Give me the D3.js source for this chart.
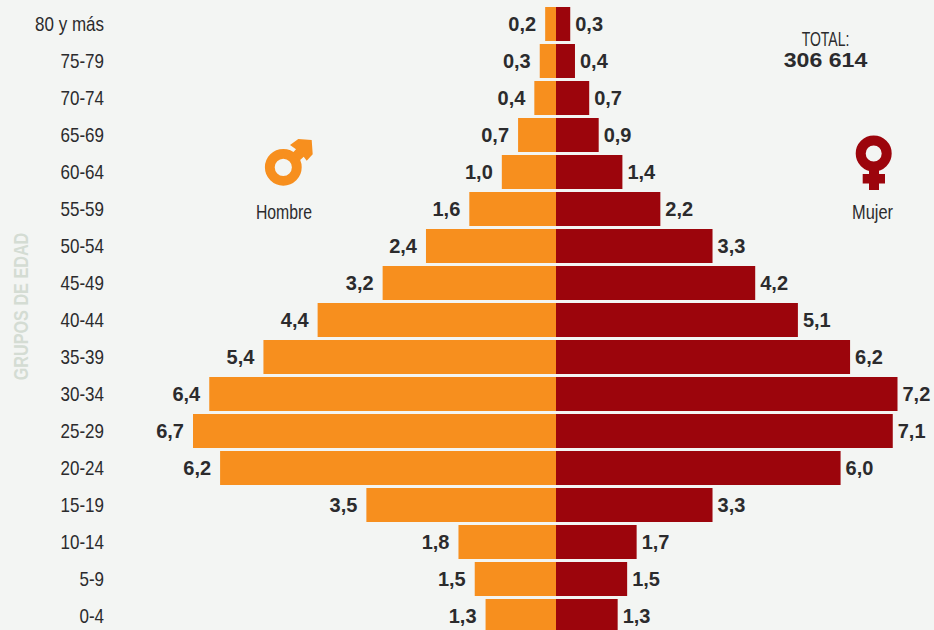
<!DOCTYPE html>
<html><head><meta charset="utf-8">
<script src="https://cdn.jsdelivr.net/npm/d3@7"></script>
<style>
html,body{margin:0;padding:0;background:#f3f5f3;overflow:hidden}
svg{display:block}
text{font-family:"Liberation Sans",sans-serif}
.val{font-weight:700;font-size:20px;fill:#2b2b2d}
</style></head><body>
<svg id="c" width="934" height="630"></svg>
<script>
const ageGroups=["80 y más","75-79","70-74","65-69","60-64","55-59","50-54","45-49","40-44","35-39","30-34","25-29","20-24","15-19","10-14","5-9","0-4"];
const maleValues=[0.2,0.3,0.4,0.7,1.0,1.6,2.4,3.2,4.4,5.4,6.4,6.7,6.2,3.5,1.8,1.5,1.3];
const femaleValues=[0.3,0.4,0.7,0.9,1.4,2.2,3.3,4.2,5.1,6.2,7.2,7.1,6.0,3.3,1.7,1.5,1.3];
const totalLabel="TOTAL:";
const totalValue="306 614";
const axisTitle="GRUPOS DE EDAD";
const maleLabel="Hombre";
const femaleLabel="Mujer";
const fmt=v=>v.toFixed(1).replace(".",",");

const svg=d3.select("#c");
const orange="#f78f1e",red="#9c050c",ink="#2b2b2d";
const y=d3.scaleBand().domain(ageGroups).range([5.5,634.5]).paddingInner(3/37).paddingOuter(3/74);
const xM=d3.scaleLinear().domain([0,6.7]).range([556,193]);
const xF=d3.scaleLinear().domain([0,7.2]).range([556,897.5]);
const narrow=0.79;

svg.append("g").selectAll("rect").data(ageGroups).join("rect")
 .attr("x",(d,i)=>xM(maleValues[i])).attr("y",d=>y(d))
 .attr("width",(d,i)=>xM(0)-xM(maleValues[i])).attr("height",y.bandwidth()).attr("fill",orange);
svg.append("g").selectAll("rect").data(ageGroups).join("rect")
 .attr("x",xF(0)).attr("y",d=>y(d))
 .attr("width",(d,i)=>xF(femaleValues[i])-xF(0)).attr("height",y.bandwidth()).attr("fill",red);

const cy=d=>y(d)+y.bandwidth()/2;
svg.append("g").selectAll("text").data(ageGroups).join("text").attr("class","val")
 .attr("x",(d,i)=>xM(maleValues[i])-9).attr("y",d=>cy(d)+7).attr("text-anchor","end")
 .text((d,i)=>fmt(maleValues[i]));
svg.append("g").selectAll("text").data(ageGroups).join("text").attr("class","val")
 .attr("x",(d,i)=>xF(femaleValues[i])+5).attr("y",d=>cy(d)+7)
 .text((d,i)=>fmt(femaleValues[i]));

const axis=d3.axisLeft(y).tickSize(0).tickPadding(0);
const ag=svg.append("g").attr("transform","translate(104,0)").call(axis);
ag.select(".domain").remove();
ag.selectAll("text").attr("font-family",null).attr("font-size",20).attr("fill",ink).attr("dy",null).attr("x",0).attr("y",7)
 .attr("transform","scale(0.85,1)");

svg.append("text").attr("transform","translate(28,306.5) rotate(-90) scale(0.81,1)")
 .attr("text-anchor","middle").attr("font-weight",700).attr("font-size",20).attr("fill","#d4dcd3").text(axisTitle);

const narrowText=(s,cx,by,sx=narrow)=>svg.append("text").attr("transform",`translate(${cx},${by}) scale(${sx},1)`)
 .attr("text-anchor","middle").attr("font-size",20).attr("fill",ink).text(s);
narrowText(totalLabel,825.5,46,0.7);
narrowText(maleLabel,284,219);
narrowText(femaleLabel,872.5,219,0.82);
svg.append("text").attr("transform","translate(825.5,66.5) scale(1.1,1)").attr("text-anchor","middle")
 .attr("font-weight",700).attr("font-size",21).attr("fill",ink).text(totalValue);

// male symbol
const m=svg.append("g");
m.append("circle").attr("cx",283.3).attr("cy",167.3).attr("r",13.5).attr("fill","none").attr("stroke",orange).attr("stroke-width",9.8);
m.append("path").attr("fill",orange).attr("d","M298.3 139 L311.7 140 L312.7 154.3 L306.7 160.7 L303.7 156.7 L299.3 160.7 L292.3 153.3 L296 149.3 L290 145 Z");
// female symbol
const f=svg.append("g");
f.append("circle").attr("cx",873.7).attr("cy",153.5).attr("r",13).attr("fill","none").attr("stroke",red).attr("stroke-width",10);
f.append("path").attr("fill",red).attr("d","M869 168 H879 V174 H885 V183.5 H879 V190 H869 V183.5 H862.7 V174 H869 Z");
</script></body></html>
